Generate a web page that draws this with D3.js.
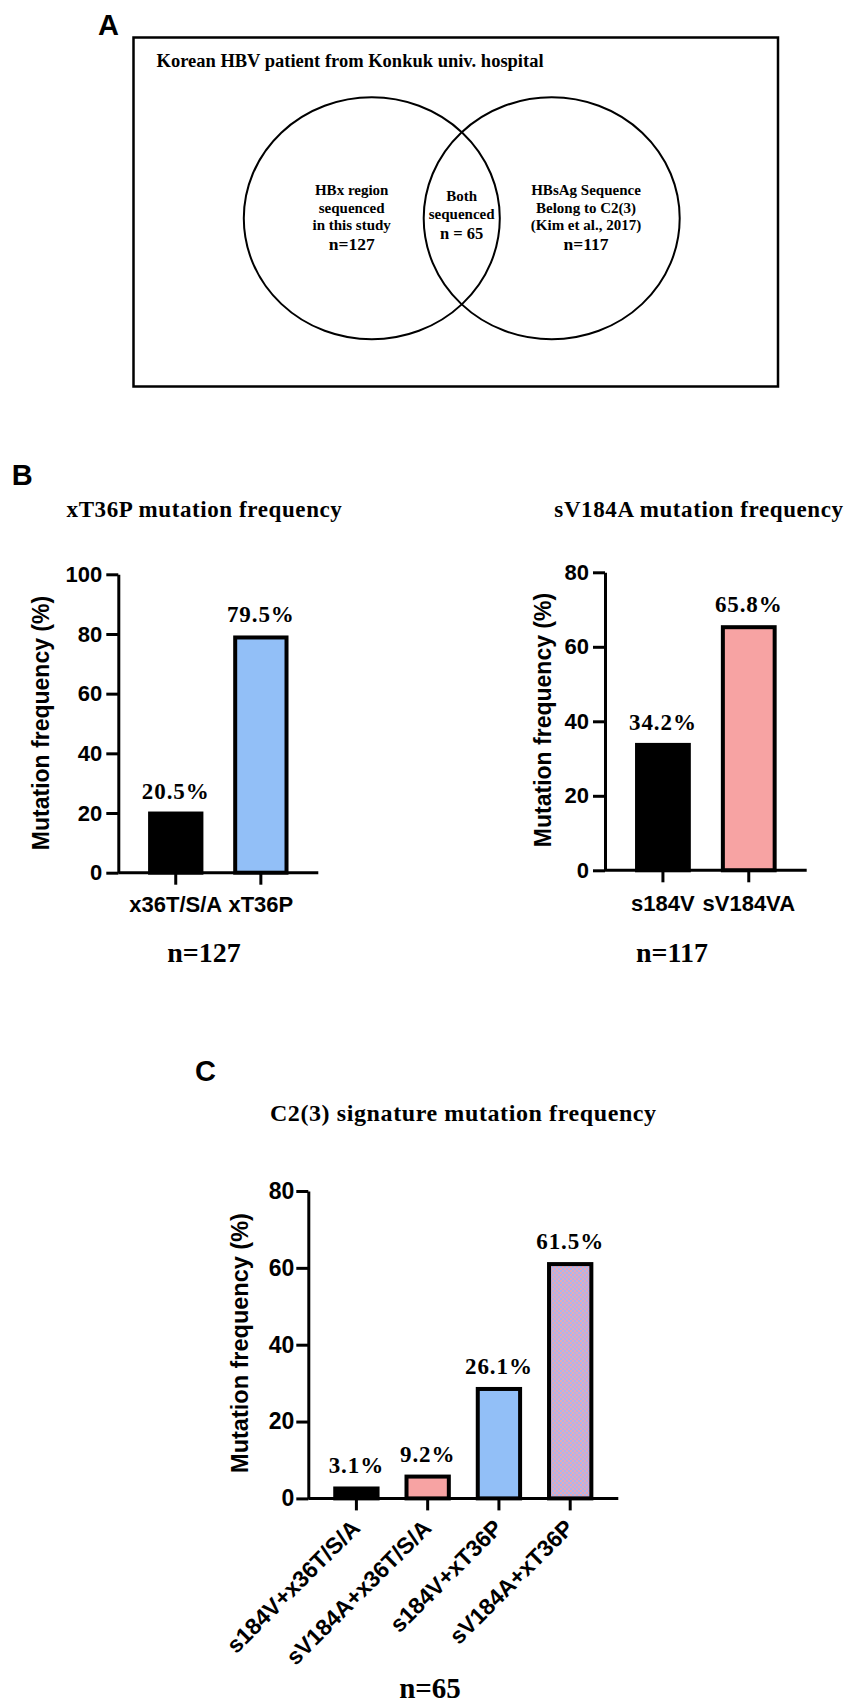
<!DOCTYPE html>
<html>
<head>
<meta charset="utf-8">
<script src="https://cdn.jsdelivr.net/npm/d3@7"></script>
<style>
  html, body { margin: 0; padding: 0; background: #fff; }
  svg { display: block; }
</style>
</head>
<body>
<div id="fig"></div>
<script>
// ---- data ----
// panel A (Venn)
const vennTitle = 'Korean HBV patient from Konkuk univ. hospital';
const vennSets = ['HBx', 'Both', 'HBsAg'];
const vennLines = [
    ['HBx region', 'sequenced', 'in this study'],
    ['Both', 'sequenced'],
    ['HBsAg Sequence', 'Belong to C2(3)', '(Kim et al., 2017)']
];
const vennCounts = ['n=127', 'n = 65', 'n=117'];

// panel B
const xT36Cats = ['x36T/S/A', 'xT36P'];
const xT36Vals = [20.5, 79.5];
const xT36Labels = ['20.5%', '79.5%'];
const sV184Cats = ['s184V', 'sV184VA'];
const sV184Vals = [34.2, 65.8];
const sV184Labels = ['34.2%', '65.8%'];

// panel C (bar heights as drawn, printed values as written)
const comboCats = ['s184V+x36T/S/A', 'sV184A+x36T/S/A', 's184V+xT36P', 'sV184A+xT36P'];
const comboVals = [3.1, 6.2, 29.0, 61.5];
const comboLabels = ['3.1%', '9.2%', '26.1%', '61.5%'];

const ticks100 = [0, 20, 40, 60, 80, 100];
const ticks80 = [0, 20, 40, 60, 80];

// ---- setup ----
const W = 854, H = 1704;
const SERIF = '"Liberation Serif", "Times New Roman", Times, serif';
const SANS = '"Liberation Sans", Arial, Helvetica, sans-serif';
const SW = 4;
const BLUE = '#92bff7', PINK = '#f7a3a3';

const svg = d3.select('#fig').append('svg')
    .attr('width', W).attr('height', H)
    .attr('viewBox', `0 0 ${W} ${H}`);

// dotted pink/blue fill for the last combo bar
const pat = svg.append('defs').append('pattern')
    .attr('id', 'mix').attr('width', 4).attr('height', 4)
    .attr('patternUnits', 'userSpaceOnUse');
pat.append('rect').attr('width', 4).attr('height', 4).attr('fill', '#a9b6ee');
pat.append('rect').attr('width', 2).attr('height', 2).attr('fill', '#e9a8b8');
pat.append('rect').attr('x', 2).attr('y', 2).attr('width', 2).attr('height', 2).attr('fill', '#e9a8b8');

function addText(txt, x, y, opts = {}) {
    return svg.append('text')
        .attr('x', x).attr('y', y)
        .attr('font-family', opts.family || SERIF)
        .attr('font-weight', 'bold')
        .attr('font-size', opts.size || 16)
        .attr('letter-spacing', opts.spacing || 0)
        .attr('text-anchor', opts.anchor || 'start')
        .attr('fill', '#000')
        .text(txt);
}

function yLabel(txt, x, cy, size) {
    svg.append('text')
        .attr('transform', `translate(${x},${cy}) rotate(-90)`)
        .attr('text-anchor', 'middle')
        .attr('font-family', SANS).attr('font-weight', 'bold')
        .attr('font-size', size)
        .text(txt);
}

// ---- panel A ----
addText('A', 98, 35, { family: SANS, size: 29 });
svg.append('rect')
    .attr('x', 133.5).attr('y', 37.5).attr('width', 644.5).attr('height', 349)
    .attr('fill', 'none').attr('stroke', '#000').attr('stroke-width', 2.5);
addText(vennTitle, 156.5, 66.7, { size: 18.5 });

const vx = d3.scalePoint().domain(vennSets).range([371.8, 551.7]);
const vennCy = 218.3;
svg.selectAll('ellipse.venn')
    .data([vennSets[0], vennSets[2]])
    .join('ellipse')
    .attr('class', 'venn')
    .attr('cx', d => vx(d)).attr('cy', vennCy)
    .attr('rx', 128).attr('ry', 121)
    .attr('fill', 'none').attr('stroke', '#000').attr('stroke-width', 2);

const vennTextX = [351.7, 461.7, 586];
vennLines.forEach((lines, i) => {
    const top = i === 1 ? 200.7 : 195;
    const step = i === 1 ? 18.6 : 17.5;
    lines.forEach((ln, j) => addText(ln, vennTextX[i], top + j * step, { size: 15, anchor: 'middle' }));
    addText(vennCounts[i], vennTextX[i], top + lines.length * step + (i === 1 ? 1.5 : 2.5),
        { size: i === 1 ? 16.5 : 17.5, anchor: 'middle' });
});

// ---- bar chart helper ----
function barChart(cfg) {
    const g = svg.append('g');
    const y = d3.scaleLinear().domain([0, cfg.yMax]).range([cfg.y0, cfg.y1]);
    const x = d3.scaleBand().domain(cfg.cats).range([cfg.x0, cfg.x1]).padding(0.35);
    const bw = x.bandwidth();

    g.selectAll('rect.bar')
        .data(cfg.vals)
        .join('rect')
        .attr('class', 'bar')
        .attr('x', (d, i) => x(cfg.cats[i]) + SW / 2)
        .attr('y', d => y(d) + SW / 2)
        .attr('width', bw - SW)
        .attr('height', d => Math.max(0, cfg.y0 - y(d) - SW / 2))
        .attr('fill', (d, i) => cfg.fills[i])
        .attr('stroke', '#000')
        .attr('stroke-width', SW);

    g.selectAll('text.val')
        .data(cfg.vals)
        .join('text')
        .attr('class', 'val')
        .attr('x', (d, i) => x(cfg.cats[i]) + bw / 2)
        .attr('y', d => y(d) - 13)
        .attr('text-anchor', 'middle')
        .attr('font-family', SERIF).attr('font-weight', 'bold')
        .attr('font-size', cfg.valSize).attr('letter-spacing', 0.9)
        .text((d, i) => cfg.labels[i]);

    const styleAxis = a => {
        a.attr('font-family', null).attr('font-size', null);
        a.select('.domain').attr('stroke-width', 3);
        a.selectAll('.tick line').attr('stroke-width', 3);
        a.selectAll('.tick text')
            .attr('font-family', SANS).attr('font-weight', 'bold')
            .attr('fill', '#000');
    };

    g.append('g')
        .attr('transform', `translate(${cfg.x0},0)`)
        .call(d3.axisLeft(y).tickValues(cfg.ticks).tickSize(12).tickSizeOuter(0)
            .tickPadding(cfg.tickPad).tickFormat(d3.format('d')))
        .call(styleAxis)
        .call(a => a.selectAll('.tick text').attr('font-size', cfg.tickSize));

    const xa = g.append('g')
        .attr('transform', `translate(0,${cfg.y0})`)
        .call(d3.axisBottom(x).tickSize(12).tickSizeOuter(0))
        .call(styleAxis);
    xa.select('.domain').attr('d', `M${cfg.x0},0H${cfg.x1}`);
    const xt = xa.selectAll('.tick text').attr('font-size', cfg.catSize).attr('dy', null);
    if (cfg.rotate) {
        xt.attr('x', 0).attr('y', 0)
            .attr('text-anchor', 'end')
            .attr('transform', `translate(5,31) rotate(-45)`);
    } else {
        xt.attr('y', cfg.catDy);
    }
}

// ---- panel B ----
addText('B', 11.7, 485, { family: SANS, size: 29 });
addText('xT36P mutation frequency', 204.5, 517, { size: 23, spacing: 0.6, anchor: 'middle' });
addText('sV184A mutation frequency', 699, 516.7, { size: 23, spacing: 0.6, anchor: 'middle' });

barChart({
    cats: xT36Cats, vals: xT36Vals, labels: xT36Labels, fills: ['#000', BLUE],
    x0: 118.3, x1: 318.3, y0: 872.7, y1: 574.3, yMax: 100, ticks: ticks100,
    tickSize: 22, tickPad: 4, catSize: 22, catDy: 39, valSize: 23
});
yLabel('Mutation frequency (%)', 49, 723, 23);
addText('n=127', 204, 961.7, { size: 28, anchor: 'middle' });

barChart({
    cats: sV184Cats, vals: sV184Vals, labels: sV184Labels, fills: ['#000', PINK],
    x0: 605, x1: 806.7, y0: 870.3, y1: 572.3, yMax: 80, ticks: ticks80,
    tickSize: 22, tickPad: 4, catSize: 22, catDy: 41, valSize: 23
});
yLabel('Mutation frequency (%)', 550.5, 720, 23);
addText('n=117', 672, 961.7, { size: 28, anchor: 'middle' });

// ---- panel C ----
addText('C', 195, 1081, { family: SANS, size: 29 });
addText('C2(3) signature mutation frequency', 463.3, 1121.3, { size: 24, spacing: 0.6, anchor: 'middle' });

barChart({
    cats: comboCats, vals: comboVals, labels: comboLabels, fills: ['#000', PINK, BLUE, 'url(#mix)'],
    x0: 308.3, x1: 618.3, y0: 1498.4, y1: 1191, yMax: 80, ticks: ticks80,
    tickSize: 23, tickPad: 2, catSize: 23, rotate: true, valSize: 23
});
yLabel('Mutation frequency (%)', 247.5, 1343, 23.5);
addText('n=65', 430, 1698, { size: 29, anchor: 'middle' });
</script>
</body>
</html>
